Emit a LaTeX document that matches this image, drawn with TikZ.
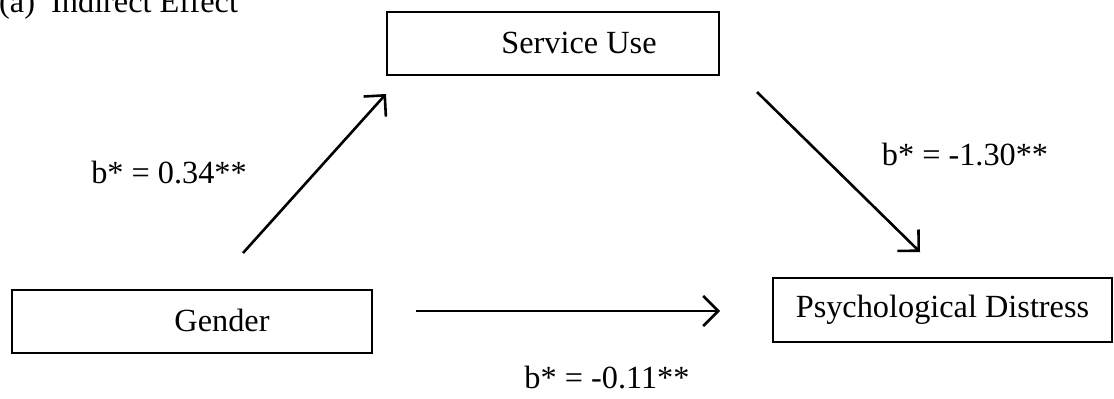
\documentclass[tikz,border=0pt]{standalone}
\usepackage{fontspec}
\setmainfont{Liberation Serif}
\usetikzlibrary{arrows.meta}
\begin{document}
\begin{tikzpicture}[x=1pt,y=-1pt,
  every node/.style={font=\fontsize{32.3}{38}\selectfont},
  varbox/.style={draw, line width=2.4pt, inner sep=0pt},
  path/.style={line width=2.6pt, -{Straight Barb[length=15pt,width=30pt,line width=2.6pt]}},
  coef/.style={anchor=base, inner sep=0pt}]
\useasboundingbox (0,0) rectangle (1114,399);

% title
\node[anchor=base west, inner sep=0pt] (title) at (-1,12) {(a)\ \ Indirect Effect};

% variables
\node[varbox, minimum width=332pt, minimum height=63pt,
      label={[xshift=26pt, yshift=1pt]center:Service Use}] (med) at (553,43.5) {};
\node[varbox, minimum width=360pt, minimum height=63pt,
      label={[xshift=30pt, yshift=1pt]center:Gender}] (x) at (192,321.5) {};
\node[varbox, minimum width=339pt, minimum height=64pt] (y) at (942.5,310) {Psychological Distress};

% path end points
\coordinate (a0) at (243,253);
\coordinate (a1) at (386,94);
\coordinate (b0) at (757,92);
\coordinate (b1) at (920,252);
\coordinate (c0) at (416,311);
\coordinate (c1) at (720,311);

\draw[path] (a0) -- (a1);
\draw[path] (b0) -- (b1);
\draw[path] (c0) -- (c1);

% coefficients
\node[coef] (ca) at (169,183) {b* = 0.34**};
\node[coef] (cb) at (965,165) {b* = -1.30**};
\node[coef] (cc) at (607,388) {b* = -0.11**};
\end{tikzpicture}
\end{document}
